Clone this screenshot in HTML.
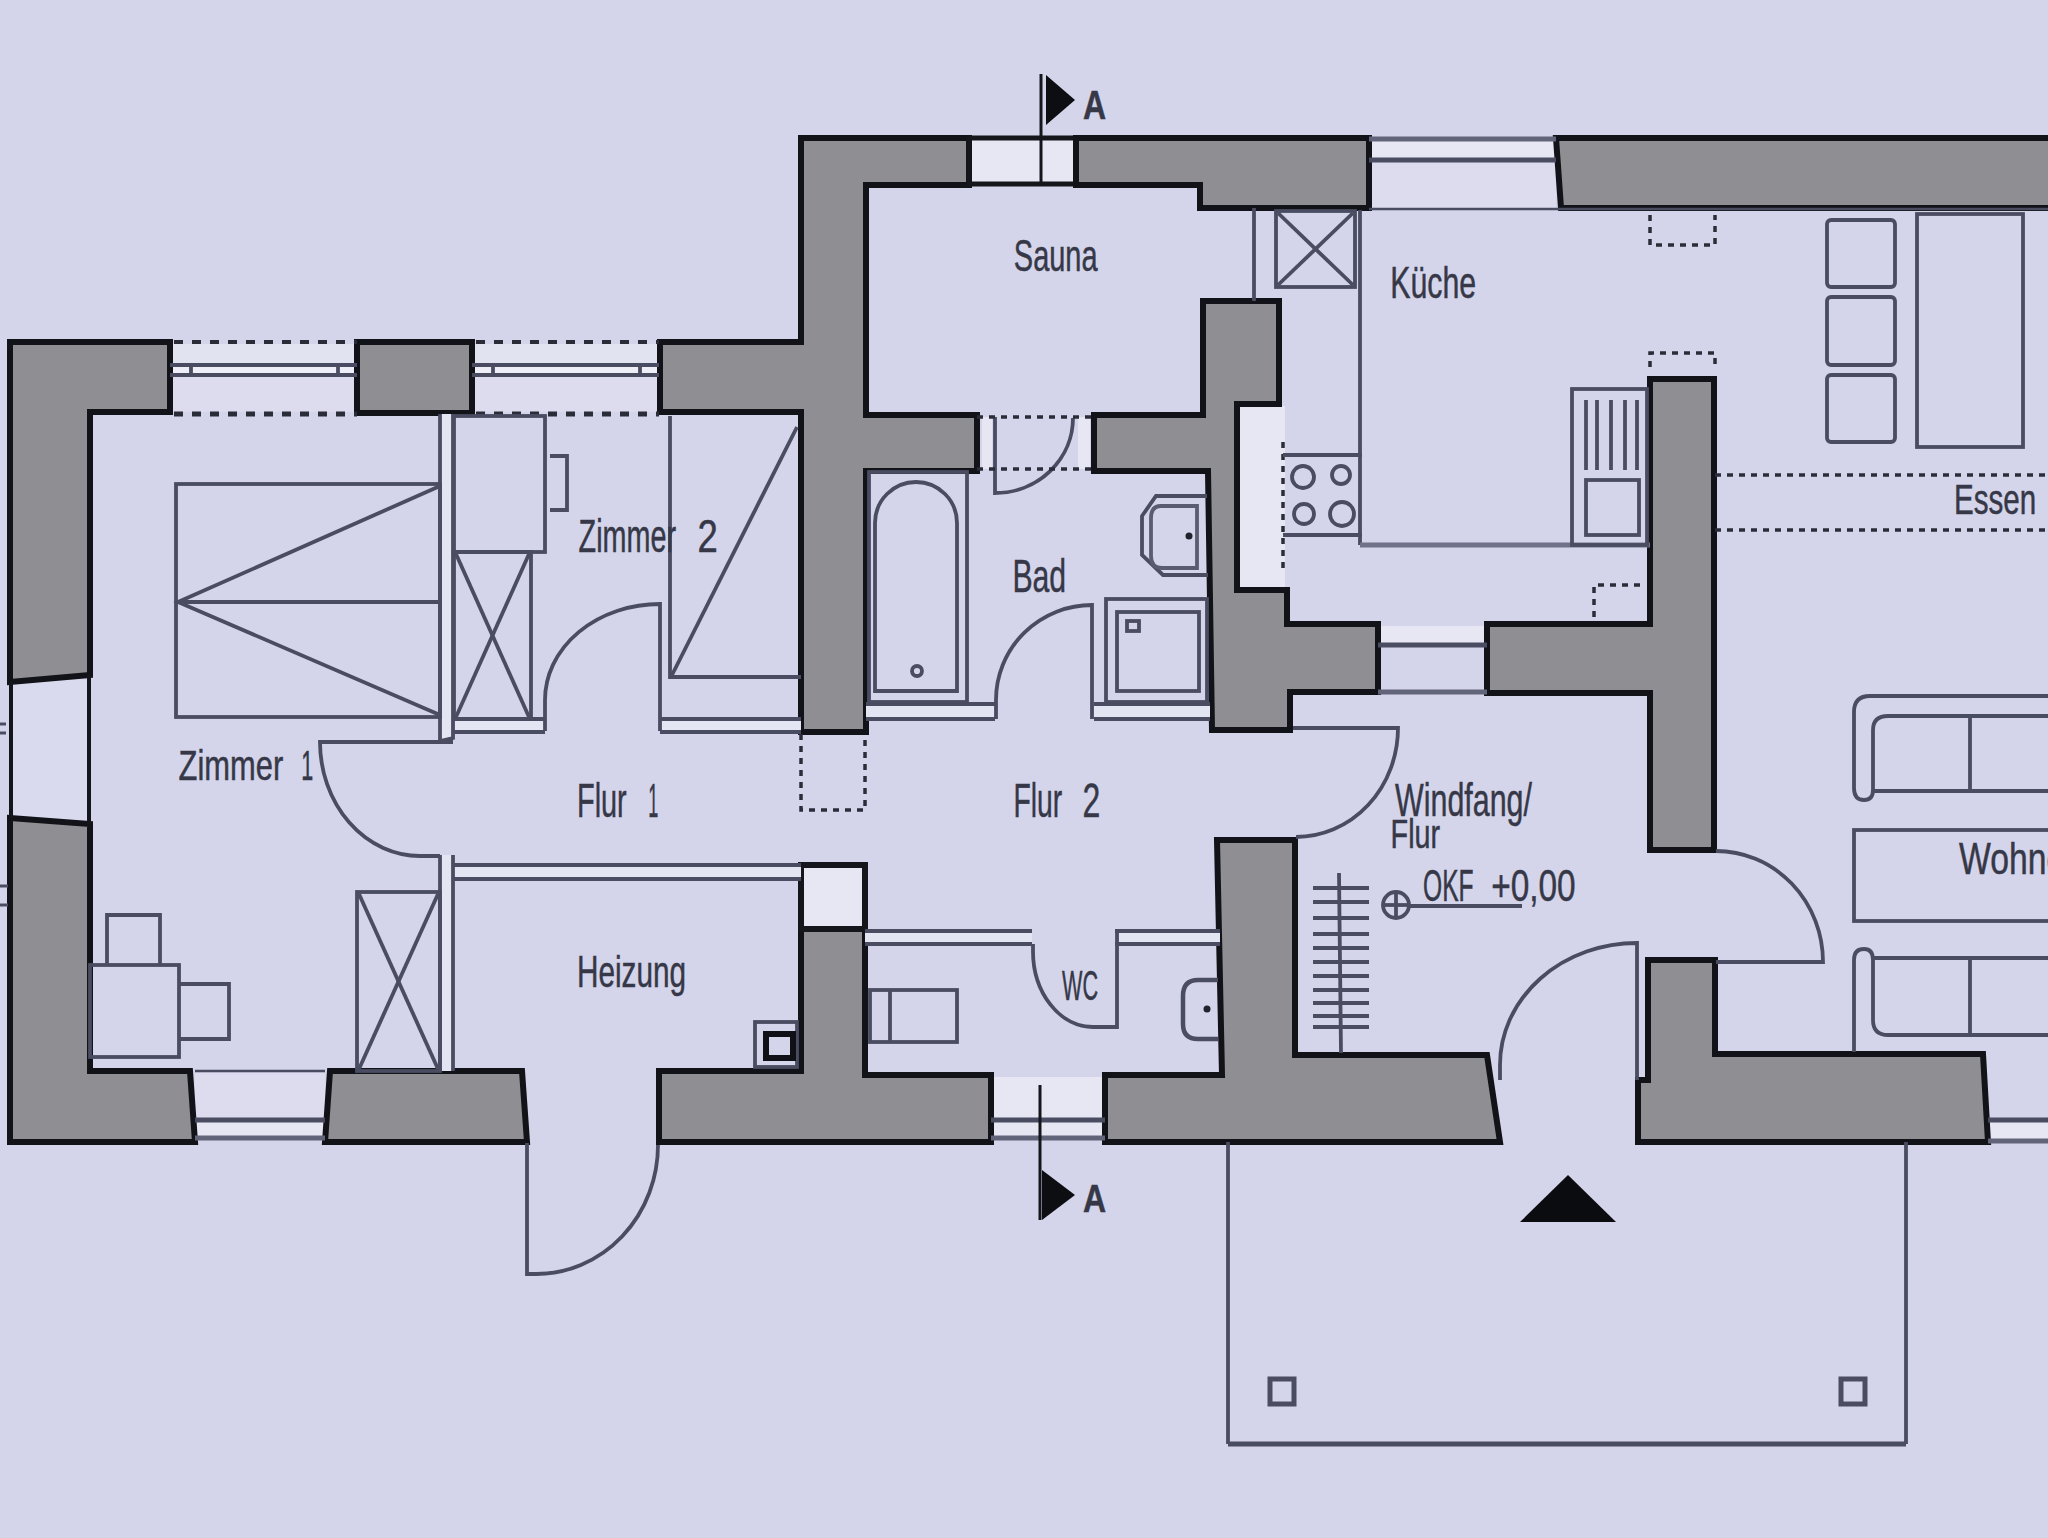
<!DOCTYPE html>
<html><head><meta charset="utf-8">
<style>
html,body{margin:0;padding:0;background:#d4d5ea;overflow:hidden}
svg{display:block}
.w{fill:#8f8e92;stroke:#111318;stroke-width:6;stroke-linejoin:miter}
.k{fill:none;stroke:#14161c;stroke-width:6}
.t{fill:none;stroke:#4a4d61;stroke-width:3.8}
.g{fill:none;stroke:#62657a;stroke-width:3.5}
.wh{fill:#e6e7f3}
.d{fill:none;stroke:#2a2c38;stroke-width:4;stroke-dasharray:6 6}
text{font-family:"Liberation Sans",sans-serif;fill:#363848}
</style></head>
<body>
<svg width="2048" height="1538" viewBox="0 0 2048 1538">
<rect x="0" y="0" width="2048" height="1538" fill="#d4d5ea"/>

<!-- ===== window sills (light fills) ===== -->
<g class="wh">
<rect x="170" y="344" width="187" height="21" fill="#e2e3f1"/>
<rect x="170" y="365" width="187" height="10" fill="#eeeef8"/>
<rect x="472" y="344" width="187" height="21" fill="#e2e3f1"/>
<rect x="472" y="365" width="187" height="10" fill="#eeeef8"/>
<rect x="170" y="375" width="187" height="37" fill="#dcdcee"/>
<rect x="472" y="375" width="187" height="37" fill="#dcdcee"/>
<rect x="969" y="138" width="107" height="46"/>
<rect x="1369" y="140" width="187" height="20"/>
<rect x="1369" y="160" width="187" height="48" fill="#dcdcee"/>
<rect x="1378" y="626" width="109" height="19"/>
<rect x="195" y="1073" width="130" height="47" fill="#dcdcee"/>
<rect x="195" y="1120" width="130" height="18"/>
<rect x="991" y="1077" width="114" height="43"/>
<rect x="991" y="1120" width="114" height="18"/>
<rect x="1988" y="1120" width="70" height="20"/>
<rect x="12" y="680" width="76" height="140" fill="#d9daee"/>
<rect x="801" y="865" width="64" height="64"/>
<rect x="1240" y="406" width="45" height="182"/>
<rect x="982" y="417" width="10" height="52"/>
<rect x="1078" y="417" width="12" height="52"/>
</g>

<!-- ===== walls ===== -->
<g id="walls">
<polygon class="w" points="10,342 170,342 170,412 90,412 90,675 10,682"/>
<rect class="w" x="357" y="342" width="115" height="71"/>
<polygon class="w" points="660,342 801,342 801,138 969,138 969,185 866,185 866,415 977,415 977,471 866,471 866,732 801,732 801,412 660,412"/>
<rect class="k" x="969" y="138" width="107" height="46" style="stroke-width:5"/>
<polygon class="w" points="1076,138 1369,138 1369,208 1200,208 1200,185 1076,185"/>
<polygon class="w" points="1556,138 2060,138 2060,208 1561,208"/>
<polygon class="w" points="1203,301 1279,301 1279,404 1237,404 1237,590 1287,590 1287,624 1378,624 1378,692 1290,692 1290,730 1212,730 1208,471 1094,471 1094,415 1203,415"/>
<polygon class="w" points="1487,624 1650,624 1650,379 1714,379 1714,850 1650,850 1650,693 1487,693"/>
<polygon class="w" points="1105,1075 1222,1075 1217,840 1295,840 1295,1055 1487,1055 1500,1142 1105,1142"/>
<polygon class="w" points="1648,960 1715,960 1715,1054 1983,1054 1988,1142 1638,1142 1638,1080 1648,1080"/>
<polygon class="w" points="10,818 90,824 90,1071 190,1071 195,1142 10,1142"/>
<polygon class="w" points="330,1071 522,1071 527,1142 325,1142"/>
<polygon class="w" points="659,1071 801,1071 801,929 865,929 865,1075 991,1075 991,1142 659,1142"/>
<rect class="k" x="801" y="865" width="64" height="64"/>
</g>

<!-- ===== windows ===== -->
<g>
<line class="d" x1="170" y1="342" x2="357" y2="342" style="stroke-dasharray:9 9;stroke-dashoffset:-4"/>
<line class="d" x1="170" y1="414" x2="357" y2="414" style="stroke-dasharray:9 9;stroke-dashoffset:-4;stroke-width:5"/>
<line class="d" x1="472" y1="342" x2="659" y2="342" style="stroke-dasharray:9 9;stroke-dashoffset:-4"/>
<line class="d" x1="472" y1="414" x2="659" y2="414" style="stroke-dasharray:9 9;stroke-dashoffset:-4;stroke-width:5"/>
<line class="t" x1="170" y1="365" x2="357" y2="365"/>
<line class="t" x1="170" y1="375" x2="357" y2="375"/>
<line class="t" x1="472" y1="365" x2="659" y2="365"/>
<line class="t" x1="472" y1="375" x2="659" y2="375"/>
<line class="t" x1="191" y1="365" x2="191" y2="375"/><line class="t" x1="338" y1="365" x2="338" y2="375"/>
<line class="t" x1="493" y1="365" x2="493" y2="375"/><line class="t" x1="640" y1="365" x2="640" y2="375"/>
<line class="k" style="stroke-width:3" x1="1041" y1="74" x2="1041" y2="184"/>
<polygon fill="#0d0e12" points="1046,75 1075,100 1046,125"/>
<line class="g" x1="1369" y1="139" x2="1556" y2="139" style="stroke-width:5"/>
<line class="t" x1="1369" y1="160" x2="1556" y2="160" style="stroke-width:5"/>
<line class="t" x1="1369" y1="209" x2="2048" y2="209" style="stroke-width:2.5"/>
<line class="t" x1="1378" y1="645" x2="1487" y2="645" style="stroke-width:5"/>
<line class="g" x1="1378" y1="692" x2="1487" y2="692" style="stroke-width:5"/>
<line class="t" x1="195" y1="1071" x2="325" y2="1071" style="stroke-width:2.5"/>
<line class="t" x1="195" y1="1120" x2="325" y2="1120" style="stroke-width:5"/>
<line class="g" x1="195" y1="1138" x2="325" y2="1138" style="stroke-width:5"/>
<line class="t" x1="991" y1="1120" x2="1105" y2="1120" style="stroke-width:5"/>
<line class="g" x1="991" y1="1138" x2="1105" y2="1138" style="stroke-width:5"/>
<line class="k" style="stroke-width:3" x1="1040" y1="1085" x2="1040" y2="1220"/>
<polygon fill="#0d0e12" points="1042,1170 1075,1195 1042,1220"/>
<line class="t" x1="1988" y1="1120" x2="2048" y2="1120" style="stroke-width:5"/>
<line class="g" x1="1988" y1="1141" x2="2048" y2="1141" style="stroke-width:5"/>
<line class="k" style="stroke-width:4" x1="11" y1="682" x2="11" y2="818"/>
<line class="k" style="stroke-width:4" x1="89" y1="675" x2="89" y2="824"/>
</g>

<g class="t" style="stroke-width:3">
<line x1="0" y1="724" x2="6" y2="724"/><line x1="0" y1="733" x2="6" y2="733"/>
<line x1="0" y1="886" x2="8" y2="886"/><line x1="0" y1="905" x2="8" y2="905"/>
</g>
<g fill="#e4e5f2">
<rect x="440" y="414" width="13" height="327"/>
<rect x="440" y="855" width="13" height="216"/>
<rect x="453" y="719" width="92" height="13"/>
<rect x="660" y="719" width="141" height="13"/>
<rect x="453" y="865" width="348" height="14"/>
<rect x="866" y="704" width="129" height="15"/>
<rect x="1094" y="704" width="116" height="15"/>
<rect x="865" y="931" width="167" height="13"/>
<rect x="1115" y="931" width="105" height="13"/>
</g>
<!-- ===== interior partitions ===== -->
<g class="t">
<polyline points="440,414 440,741"/>
<polyline points="453,414 453,738 440,741"/>
<polyline points="440,855 440,1071"/>
<polyline points="453,855 453,1071"/>
<line x1="453" y1="719" x2="545" y2="719"/>
<line x1="453" y1="732" x2="545" y2="732"/>
<line x1="660" y1="719" x2="801" y2="719"/>
<line x1="660" y1="732" x2="801" y2="732"/>
<line x1="453" y1="865" x2="801" y2="865"/>
<line x1="453" y1="879" x2="801" y2="879"/>
<line x1="866" y1="704" x2="995" y2="704"/>
<line x1="866" y1="719" x2="995" y2="719"/>
<line x1="1094" y1="704" x2="1210" y2="704"/>
<line x1="1094" y1="719" x2="1210" y2="719"/>
<line x1="865" y1="931" x2="1032" y2="931"/>
<line x1="865" y1="944" x2="1032" y2="944"/>
<line x1="1115" y1="931" x2="1220" y2="931"/>
<line x1="1115" y1="944" x2="1220" y2="944"/>
<line x1="1254" y1="208" x2="1254" y2="301"/>
<line x1="1360" y1="210" x2="1360" y2="545"/>
<line x1="1228" y1="1142" x2="1228" y2="1444"/>
<line x1="1906" y1="1142" x2="1906" y2="1444"/>
<line x1="1228" y1="1444" x2="1906" y2="1444" style="stroke-width:5"/>
</g>

<!-- ===== doors ===== -->
<g class="t">
<path d="M453,742 H320 A100,114 0 0 0 420,856 H440"/>
<path d="M660,731 V604 A115,96 0 0 0 545,700 V731"/>
<path d="M995,417 V493 A78,75 0 0 0 1073,418"/>
<path d="M1092,719 V605 A96,95 0 0 0 996,700 V719"/>
<path d="M1117,930 V1027 H1093 A60,76 0 0 1 1033,950 V944"/>
<path d="M527,1143 V1274 H536 A122,129 0 0 0 658,1145"/>
<path d="M1293,728 H1398 A102,109 0 0 1 1296,837"/>
<path d="M1637,1080 V943 A137,122 0 0 0 1500,1065 V1080"/>
<path d="M1716,962 H1823 A107,111 0 0 0 1716,851"/>
</g>
<g class="d" style="stroke-width:3.5">
<polyline points="801,734 801,810 865,810 865,734"/>
<line x1="977" y1="417" x2="1094" y2="417"/>
<line x1="977" y1="469" x2="1094" y2="469"/>
<polyline points="1650,215 1650,245 1715,245 1715,215"/>
<polyline points="1650,367 1650,353 1715,353 1715,367"/>
<polyline points="1594,617 1594,585 1645,585"/>
<line x1="1283" y1="442" x2="1283" y2="570"/>
<line x1="1715" y1="475" x2="2048" y2="475"/>
<line x1="1715" y1="530" x2="2048" y2="530"/>
</g>

<!-- ===== furniture ===== -->
<g class="t">
<!-- Zimmer 1 bed -->
<rect x="176" y="484" width="264" height="233"/>
<line x1="176" y1="602" x2="440" y2="602"/>
<polyline points="440,486 178,602 440,715"/>
<!-- wardrobe z1 -->
<rect x="357" y="892" width="83" height="179"/>
<polyline points="359,1069 438,894"/>
<polyline points="359,894 438,1069"/>
<!-- desk z1 -->
<rect x="90" y="965" width="89" height="92"/>
<polyline points="107,965 107,915 160,915 160,965"/>
<polyline points="179,984 229,984 229,1039 179,1039"/>
<!-- Zimmer 2 desk -->
<rect x="454" y="416" width="91" height="136"/>
<polyline points="550,456 567,456 567,510 550,510"/>
<rect x="454" y="552" width="77" height="167"/>
<polyline points="456,554 529,717"/>
<polyline points="529,554 456,717"/>
<!-- Zimmer 2 bed -->
<polyline points="670,416 670,677 801,677"/>
<line x1="672" y1="675" x2="797" y2="427"/>
<!-- bath tub -->
<rect x="869" y="472" width="98" height="230"/>
<path d="M875,691 V523 A41,41 0 0 1 957,523 V691 Z"/>
<circle cx="917" cy="671" r="5"/>
<!-- shower -->
<rect x="1106" y="599" width="101" height="103"/>
<rect x="1117" y="612" width="82" height="79"/>
<rect x="1127" y="621" width="12" height="10"/>
<!-- sink bad -->
<path d="M1207,496 H1156 L1142,516 V555 L1163,575 H1208"/>
<path d="M1197,506 H1161 Q1151,506 1151,518 V556 Q1151,568 1162,568 H1197 Z" style="stroke:#5a5d72"/>
<circle cx="1189" cy="536" r="3.5" fill="#20222c" stroke="none"/>
<!-- WC -->
<rect x="870" y="990" width="87" height="52"/>
<line x1="890" y1="990" x2="890" y2="1042"/>
<path d="M1218,980 H1198 Q1183,980 1183,996 V1024 Q1183,1039 1198,1039 H1218" style="stroke-width:4.5"/>
<circle cx="1207" cy="1009" r="3.5" fill="#20222c" stroke="none"/>
<!-- heater -->
<rect x="755" y="1022" width="42" height="45"/>
<rect x="766" y="1034" width="27" height="24" style="stroke:#101116;stroke-width:6"/>
<!-- kitchen -->
<rect x="1276" y="211" width="79" height="76"/>
<line x1="1278" y1="213" x2="1353" y2="285"/>
<line x1="1353" y1="213" x2="1278" y2="285"/>
<line x1="1283" y1="455" x2="1362" y2="455"/>
<line x1="1283" y1="535" x2="1362" y2="535"/>
<circle cx="1303" cy="477" r="11"/>
<circle cx="1341" cy="475" r="9"/>
<circle cx="1304" cy="514" r="10"/>
<circle cx="1342" cy="514" r="12"/>
<line x1="1360" y1="545" x2="1650" y2="545" style="stroke:#70728a;stroke-width:5"/>
<rect x="1572" y="389" width="75" height="156"/>
<line x1="1586" y1="400" x2="1586" y2="470"/>
<line x1="1597" y1="400" x2="1597" y2="470"/>
<line x1="1611" y1="400" x2="1611" y2="470"/>
<line x1="1625" y1="400" x2="1625" y2="470"/>
<line x1="1637" y1="400" x2="1637" y2="470"/>
<rect x="1586" y="480" width="53" height="55"/>
<rect x="1827" y="220" width="68" height="67" rx="4"/>
<rect x="1827" y="297" width="68" height="68" rx="4"/>
<rect x="1827" y="375" width="68" height="67" rx="4"/>
<rect x="1917" y="214" width="106" height="233"/>
<!-- stairs -->
<line x1="1339" y1="873" x2="1341" y2="1053"/>
<line x1="1313" y1="888" x2="1369" y2="888"/>
<line x1="1313" y1="902" x2="1369" y2="902"/>
<line x1="1313" y1="918" x2="1369" y2="918"/>
<line x1="1313" y1="934" x2="1369" y2="934"/>
<line x1="1313" y1="948" x2="1369" y2="948"/>
<line x1="1313" y1="962" x2="1369" y2="962"/>
<line x1="1313" y1="976" x2="1369" y2="976"/>
<line x1="1313" y1="990" x2="1369" y2="990"/>
<line x1="1313" y1="1003" x2="1369" y2="1003"/>
<line x1="1313" y1="1016" x2="1369" y2="1016"/>
<line x1="1313" y1="1027" x2="1369" y2="1027"/>
<circle cx="1396" cy="905" r="13"/>
<line x1="1383" y1="905" x2="1409" y2="905"/>
<line x1="1396" y1="892" x2="1396" y2="918"/>
<line x1="1409" y1="906" x2="1522" y2="906"/>
<!-- living -->
<path d="M2060,696 H1870 Q1854,696 1854,712 V788 Q1854,800 1864,800 Q1873,800 1873,790 V730 Q1873,716 1888,716 H2060"/>
<line x1="1873" y1="791" x2="2060" y2="791"/>
<line x1="1970" y1="716" x2="1970" y2="791"/>
<rect x="1854" y="830" width="220" height="91"/>
<path d="M2060,1035 H1888 Q1873,1035 1873,1020 V960 Q1873,949 1864,949 Q1854,949 1854,960 V1052"/>
<line x1="1873" y1="958" x2="2060" y2="958"/>
<line x1="1970" y1="958" x2="1970" y2="1035"/>
<!-- terrace pillars -->
<rect x="1270" y="1379" width="24" height="25" style="stroke-width:5"/>
<rect x="1841" y="1379" width="24" height="25" style="stroke-width:5"/>
</g>
<polygon fill="#0b0c10" points="1520,1222 1568,1175 1616,1222"/>

<!-- ===== text ===== -->
<g style="stroke:#363848;stroke-width:0.5">
<text x="1013.8" y="271" font-size="44" textLength="83.8" lengthAdjust="spacingAndGlyphs">Sauna</text>
<text x="1390.2" y="298" font-size="44" textLength="85.9" lengthAdjust="spacingAndGlyphs">Küche</text>
<text x="578.6" y="552.2" font-size="46" textLength="97.4" lengthAdjust="spacingAndGlyphs">Zimmer</text>
<text x="697.6" y="552.2" font-size="46" textLength="20.3" lengthAdjust="spacingAndGlyphs">2</text>
<text x="178.6" y="779.8" font-size="42.5" textLength="104.6" lengthAdjust="spacingAndGlyphs">Zimmer</text>
<text x="301.2" y="779.8" font-size="42.5" textLength="12.0" lengthAdjust="spacingAndGlyphs">1</text>
<text x="1012.4" y="591.9" font-size="47" textLength="53.8" lengthAdjust="spacingAndGlyphs">Bad</text>
<text x="577.0" y="816.9" font-size="48" textLength="49.7" lengthAdjust="spacingAndGlyphs">Flur</text>
<text x="648.2" y="816.9" font-size="48" textLength="10.1" lengthAdjust="spacingAndGlyphs">1</text>
<text x="1013.4" y="817" font-size="49" textLength="48.7" lengthAdjust="spacingAndGlyphs">Flur</text>
<text x="1082.4" y="817" font-size="49" textLength="17.8" lengthAdjust="spacingAndGlyphs">2</text>
<text x="577.0" y="987" font-size="45" textLength="109.1" lengthAdjust="spacingAndGlyphs">Heizung</text>
<text x="1062.0" y="1000" font-size="42" textLength="36.0" lengthAdjust="spacingAndGlyphs">WC</text>
<text x="1395.0" y="816" font-size="46" textLength="137.0" lengthAdjust="spacingAndGlyphs">Windfang/</text>
<text x="1390.6" y="848.4" font-size="41" textLength="49.5" lengthAdjust="spacingAndGlyphs">Flur</text>
<text x="1423.0" y="901" font-size="45" textLength="50.6" lengthAdjust="spacingAndGlyphs">OKF</text>
<text x="1491.2" y="901" font-size="45" textLength="84.5" lengthAdjust="spacingAndGlyphs">+0,00</text>
<text x="1954.0" y="513.7" font-size="42" textLength="82.2" lengthAdjust="spacingAndGlyphs">Essen</text>
<text x="1959.0" y="874" font-size="45" textLength="125.0" lengthAdjust="spacingAndGlyphs">Wohnen</text>
<text x="1083.0" y="119" font-size="40" font-weight="bold" textLength="23.1" lengthAdjust="spacingAndGlyphs">A</text>
<text x="1083.0" y="1212" font-size="38" font-weight="bold" textLength="23.1" lengthAdjust="spacingAndGlyphs">A</text>
</g>
</svg>
</body></html>
